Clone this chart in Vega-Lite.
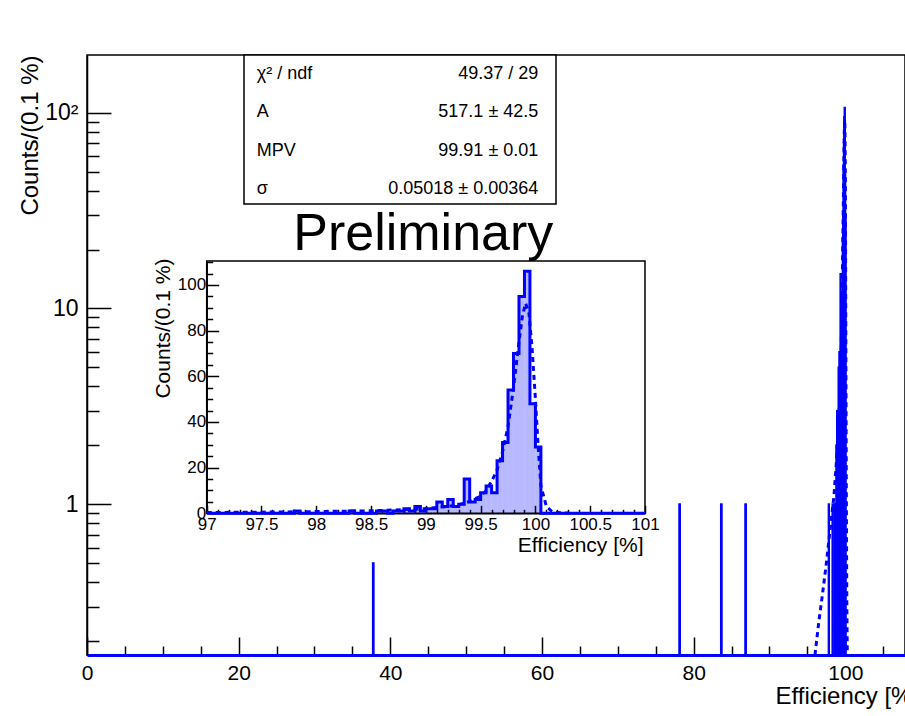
{
  "$schema": "https://vega.github.io/schema/vega-lite/v6.json",
  "width": 818,
  "height": 600,
  "autosize": {"type": "none"},
  "padding": {"left": 87, "top": 55, "right": 0, "bottom": 61},
  "background": "white",
  "config": {
    "font": "Liberation Sans",
    "view": {"stroke": "black", "strokeWidth": 1.5},
    "axis": {
      "grid": false,
      "labelFont": "Liberation Sans",
      "titleFont": "Liberation Sans",
      "titleFontWeight": "normal",
      "labelColor": "black",
      "titleColor": "black",
      "domainColor": "black",
      "tickColor": "black",
      "domainWidth": 1.5,
      "tickWidth": 1.5,
      "labelOverlap": false,
      "labelFlush": false,
      "labelBound": false
    }
  },
  "datasets": {
    "hist": [
      {"lo": 37.7, "hi": 37.8, "count": 0.5},
      {"lo": 78.1, "hi": 78.2, "count": 1},
      {"lo": 83.6, "hi": 83.7, "count": 1},
      {"lo": 86.8, "hi": 86.9, "count": 1},
      {"lo": 97.00, "hi": 97.05, "count": 0},
      {"lo": 97.05, "hi": 97.10, "count": 0},
      {"lo": 97.10, "hi": 97.15, "count": 0},
      {"lo": 97.15, "hi": 97.20, "count": 0},
      {"lo": 97.20, "hi": 97.25, "count": 0},
      {"lo": 97.25, "hi": 97.30, "count": 0},
      {"lo": 97.30, "hi": 97.35, "count": 0},
      {"lo": 97.35, "hi": 97.40, "count": 0},
      {"lo": 97.40, "hi": 97.45, "count": 0},
      {"lo": 97.45, "hi": 97.50, "count": 0},
      {"lo": 97.50, "hi": 97.55, "count": 0},
      {"lo": 97.55, "hi": 97.60, "count": 0},
      {"lo": 97.60, "hi": 97.65, "count": 0},
      {"lo": 97.65, "hi": 97.70, "count": 0},
      {"lo": 97.70, "hi": 97.75, "count": 0},
      {"lo": 97.75, "hi": 97.80, "count": 0},
      {"lo": 97.80, "hi": 97.85, "count": 1},
      {"lo": 97.85, "hi": 97.90, "count": 0},
      {"lo": 97.90, "hi": 97.95, "count": 0},
      {"lo": 97.95, "hi": 98.00, "count": 0},
      {"lo": 98.00, "hi": 98.05, "count": 0},
      {"lo": 98.05, "hi": 98.10, "count": 0},
      {"lo": 98.10, "hi": 98.15, "count": 0},
      {"lo": 98.15, "hi": 98.20, "count": 0},
      {"lo": 98.20, "hi": 98.25, "count": 0},
      {"lo": 98.25, "hi": 98.30, "count": 0},
      {"lo": 98.30, "hi": 98.35, "count": 1},
      {"lo": 98.35, "hi": 98.40, "count": 0},
      {"lo": 98.40, "hi": 98.45, "count": 0},
      {"lo": 98.45, "hi": 98.50, "count": 0},
      {"lo": 98.50, "hi": 98.55, "count": 0},
      {"lo": 98.55, "hi": 98.60, "count": 1},
      {"lo": 98.60, "hi": 98.65, "count": 1},
      {"lo": 98.65, "hi": 98.70, "count": 0},
      {"lo": 98.70, "hi": 98.75, "count": 1},
      {"lo": 98.75, "hi": 98.80, "count": 1},
      {"lo": 98.80, "hi": 98.85, "count": 2},
      {"lo": 98.85, "hi": 98.90, "count": 1},
      {"lo": 98.90, "hi": 98.95, "count": 3},
      {"lo": 98.95, "hi": 99.00, "count": 1},
      {"lo": 99.00, "hi": 99.05, "count": 2},
      {"lo": 99.05, "hi": 99.10, "count": 2},
      {"lo": 99.10, "hi": 99.15, "count": 5},
      {"lo": 99.15, "hi": 99.20, "count": 3},
      {"lo": 99.20, "hi": 99.25, "count": 6},
      {"lo": 99.25, "hi": 99.30, "count": 3},
      {"lo": 99.30, "hi": 99.35, "count": 4},
      {"lo": 99.35, "hi": 99.40, "count": 15},
      {"lo": 99.40, "hi": 99.45, "count": 5},
      {"lo": 99.45, "hi": 99.50, "count": 6},
      {"lo": 99.50, "hi": 99.55, "count": 9},
      {"lo": 99.55, "hi": 99.60, "count": 12},
      {"lo": 99.60, "hi": 99.65, "count": 9},
      {"lo": 99.65, "hi": 99.70, "count": 23},
      {"lo": 99.70, "hi": 99.75, "count": 31},
      {"lo": 99.75, "hi": 99.80, "count": 54},
      {"lo": 99.80, "hi": 99.85, "count": 70},
      {"lo": 99.85, "hi": 99.90, "count": 95},
      {"lo": 99.90, "hi": 99.95, "count": 106},
      {"lo": 99.95, "hi": 100.00, "count": 48},
      {"lo": 100.00, "hi": 100.05, "count": 29},
      {"lo": 100.05, "hi": 100.10, "count": 0},
      {"lo": 100.10, "hi": 100.15, "count": 0},
      {"lo": 100.15, "hi": 100.20, "count": 0},
      {"lo": 100.20, "hi": 100.25, "count": 0},
      {"lo": 100.25, "hi": 100.30, "count": 0},
      {"lo": 100.30, "hi": 100.35, "count": 0},
      {"lo": 100.35, "hi": 100.40, "count": 0},
      {"lo": 100.40, "hi": 100.45, "count": 0},
      {"lo": 100.45, "hi": 100.50, "count": 0},
      {"lo": 100.50, "hi": 100.55, "count": 0},
      {"lo": 100.55, "hi": 100.60, "count": 0},
      {"lo": 100.60, "hi": 100.65, "count": 0},
      {"lo": 100.65, "hi": 100.70, "count": 0},
      {"lo": 100.70, "hi": 100.75, "count": 0},
      {"lo": 100.75, "hi": 100.80, "count": 0},
      {"lo": 100.80, "hi": 100.85, "count": 0},
      {"lo": 100.85, "hi": 100.90, "count": 0},
      {"lo": 100.90, "hi": 100.95, "count": 0},
      {"lo": 100.95, "hi": 101.00, "count": 0}
    ],
    "fit": [
      {"x": 96.0, "y": 0.17},
      {"x": 96.5, "y": 0.25},
      {"x": 97.0, "y": 0.35},
      {"x": 97.5, "y": 0.5},
      {"x": 98.0, "y": 0.75},
      {"x": 98.5, "y": 1.1},
      {"x": 98.8, "y": 1.6},
      {"x": 99.0, "y": 2.1},
      {"x": 99.2, "y": 3.0},
      {"x": 99.3, "y": 3.8},
      {"x": 99.4, "y": 5.2},
      {"x": 99.5, "y": 7.5},
      {"x": 99.55, "y": 10},
      {"x": 99.6, "y": 14},
      {"x": 99.65, "y": 19},
      {"x": 99.7, "y": 27},
      {"x": 99.75, "y": 38},
      {"x": 99.8, "y": 55},
      {"x": 99.85, "y": 75},
      {"x": 99.88, "y": 86},
      {"x": 99.91, "y": 92},
      {"x": 99.94, "y": 88},
      {"x": 99.97, "y": 72},
      {"x": 100.0, "y": 50},
      {"x": 100.02, "y": 33},
      {"x": 100.05, "y": 12},
      {"x": 100.1, "y": 3},
      {"x": 100.15, "y": 0.8},
      {"x": 100.2, "y": 0.3},
      {"x": 100.3, "y": 0.12}
    ],
    "stats": [
      {"row": 1, "param": "χ² / ndf", "val": "49.37 / 29"},
      {"row": 2, "param": "A", "val": "517.1 ± 42.5"},
      {"row": 3, "param": "MPV", "val": "99.91 ± 0.01"},
      {"row": 4, "param": "σ", "val": "0.05018 ± 0.00364"}
    ]
  },
  "layer": [
    {
      "layer": [
        {
          "data": {"name": "hist"},
          "transform": [{"filter": "datum.count > 0"}],
          "mark": {"type": "bar", "color": "#0000ff", "stroke": "#0000ff", "strokeWidth": 2},
          "encoding": {
            "x": {
              "field": "lo", "type": "quantitative",
              "scale": {"domain": [0, 107.87], "nice": false, "zero": false},
              "axis": {
                "title": "Efficiency [%]",
                "values": [0, 5, 10, 15, 20, 25, 30, 35, 40, 45, 50, 55, 60, 65, 70, 75, 80, 85, 90, 95, 100, 105],
                "tickCount": 1000,
                "labelExpr": "datum.value % 20 == 0 ? toString(datum.value) : ''",
                "tickSize": {"condition": {"test": "datum.value % 20 == 0", "value": -18}, "value": -9},
                "labelPadding": 25,
                "labelFontSize": 21,
                "labelOverlap": false,
                "domainColor": "#0000ff",
                "domainWidth": 3,
                "titleFontSize": 24,
                "titleX": 688,
                "titleY": 48,
                "titleAlign": "left",
                "titleBaseline": "alphabetic"
              }
            },
            "x2": {"field": "hi"},
            "y": {
              "field": "count", "type": "quantitative", "stack": false,
              "scale": {"type": "log", "domain": [0.1699, 197.1], "nice": false},
              "axis": {
                "title": "Counts/(0.1 %)",
                "values": [0.2, 0.3, 0.4, 0.5, 0.6, 0.7, 0.8, 0.9, 1, 2, 3, 4, 5, 6, 7, 8, 9, 10, 20, 30, 40, 50, 60, 70, 80, 90, 100],
                "tickCount": 1000,
                "labelExpr": "datum.value == 100 ? '10²' : datum.value == 10 ? '10' : datum.value == 1 ? '1' : ''",
                "tickSize": {"condition": {"test": "datum.value == 1 || datum.value == 10 || datum.value == 100", "value": -24}, "value": -12},
                "labelPadding": 33,
                "labelFontSize": 23,
                "labelOverlap": false,
                "titleFontSize": 24,
                "titleAngle": -90,
                "titleX": -50,
                "titleY": 0,
                "titleAlign": "right",
                "titleBaseline": "alphabetic"
              }
            },
            "y2": {"datum": 0.1699}
          }
        },
        {
          "data": {"name": "fit"},
          "mark": {"type": "line", "color": "#0000ff", "strokeWidth": 3, "strokeDash": [5, 4], "clip": true},
          "encoding": {
            "x": {"field": "x", "type": "quantitative"},
            "y": {"field": "y", "type": "quantitative"}
          }
        },
        {
          "data": {"values": [{"t": "Preliminary"}]},
          "mark": {"type": "text", "fontSize": 52, "align": "left", "baseline": "alphabetic", "color": "black"},
          "encoding": {
            "x": {"datum": 27.2},
            "y": {"datum": 19.9},
            "text": {"field": "t"}
          }
        }
      ]
    },
    {
      "data": {"name": "stats"},
      "layer": [
        {
          "data": {"values": [{}]},
          "mark": {"type": "rect", "fill": "white", "stroke": "black", "strokeWidth": 1.5},
          "encoding": {
            "x": {"datum": 0, "type": "quantitative", "scale": {"domain": [0, 1], "range": [157, 469], "nice": false, "zero": false}, "axis": null},
            "x2": {"datum": 1},
            "y": {"datum": 0.5, "type": "quantitative", "scale": {"domain": [0.5, 4.4], "range": [0, 149], "nice": false, "zero": false}, "axis": null},
            "y2": {"datum": 4.4}
          }
        },
        {
          "mark": {"type": "text", "align": "left", "baseline": "middle", "fontSize": 18, "color": "black"},
          "encoding": {
            "x": {"datum": 0.0407},
            "y": {"field": "row", "type": "quantitative"},
            "text": {"field": "param"}
          }
        },
        {
          "mark": {"type": "text", "align": "right", "baseline": "middle", "fontSize": 18, "color": "black"},
          "encoding": {
            "x": {"datum": 0.9433},
            "y": {"field": "row", "type": "quantitative"},
            "text": {"field": "val"}
          }
        }
      ]
    },
    {
      "layer": [
        {
          "data": {"name": "hist"},
          "transform": [{"filter": "datum.lo >= 96.99"}],
          "mark": {"type": "bar", "color": "#0000ff", "fillOpacity": 0.28, "strokeWidth": 0},
          "encoding": {
            "x": {
              "field": "lo", "type": "quantitative",
              "scale": {"domain": [97, 101], "range": [119.7, 558], "nice": false, "zero": false},
              "axis": {
                "orient": "bottom",
                "offset": -141.7,
                "title": "Efficiency [%]",
                "values": [97.0, 97.1, 97.2, 97.3, 97.4, 97.5, 97.6, 97.7, 97.8, 97.9, 98.0, 98.1, 98.2, 98.3, 98.4, 98.5, 98.6, 98.7, 98.8, 98.9, 99.0, 99.1, 99.2, 99.3, 99.4, 99.5, 99.6, 99.7, 99.8, 99.9, 100.0, 100.1, 100.2, 100.3, 100.4, 100.5, 100.6, 100.7, 100.8, 100.9, 101.0],
                "tickCount": 1000,
                "labelExpr": "abs(datum.value * 2 - round(datum.value * 2)) < 0.001 ? toString(round(datum.value * 10) / 10) : ''",
                "tickSize": {"condition": {"test": "abs(datum.value * 2 - round(datum.value * 2)) < 0.001", "value": -8}, "value": -4},
                "labelPadding": 11,
                "labelFontSize": 17,
                "labelOverlap": false,
                "titleFontSize": 21,
                "titleX": 556,
                "titleY": 38.4,
                "titleAlign": "right",
                "titleBaseline": "alphabetic"
              }
            },
            "x2": {"field": "hi"},
            "y": {
              "field": "count", "type": "quantitative", "stack": false,
              "scale": {"domain": [0, 110.5], "range": [458.3, 206], "nice": false, "zero": false},
              "axis": {
                "orient": "left",
                "offset": -119.7,
                "title": "Counts/(0.1 %)",
                "values": [0, 5, 10, 15, 20, 25, 30, 35, 40, 45, 50, 55, 60, 65, 70, 75, 80, 85, 90, 95, 100, 105, 110],
                "tickCount": 1000,
                "labelExpr": "datum.value % 20 == 0 ? toString(datum.value) : ''",
                "tickSize": {"condition": {"test": "datum.value % 20 == 0", "value": -12}, "value": -6},
                "labelPadding": 13,
                "labelFontSize": 17,
                "labelOverlap": false,
                "titleFontSize": 21,
                "titleAngle": -90,
                "titleX": -37,
                "titleY": 203,
                "titleAlign": "right",
                "titleBaseline": "alphabetic"
              }
            },
            "y2": {"datum": 0}
          }
        },
        {
          "data": {"values": [{}]},
          "mark": {"type": "rect", "filled": false, "stroke": "black", "strokeWidth": 1.5},
          "encoding": {
            "x": {"datum": 97},
            "x2": {"datum": 101},
            "y": {"datum": 0},
            "y2": {"datum": 110.5}
          }
        },
        {
          "data": {"name": "hist"},
          "transform": [
            {"filter": "datum.lo >= 96.99"},
            {"fold": ["lo", "hi"], "as": ["side", "edge"]}
          ],
          "mark": {"type": "line", "color": "#0000ff", "strokeWidth": 3},
          "encoding": {
            "x": {"field": "edge", "type": "quantitative"},
            "y": {"field": "count", "type": "quantitative"},
            "order": [{"field": "lo", "type": "quantitative"}, {"field": "edge", "type": "quantitative"}]
          }
        },
        {
          "data": {"name": "fit"},
          "transform": [{"filter": "datum.x >= 97 && datum.x <= 101"}],
          "mark": {"type": "line", "color": "#0000ff", "strokeWidth": 3, "strokeDash": [5, 4]},
          "encoding": {
            "x": {"field": "x", "type": "quantitative"},
            "y": {"field": "y", "type": "quantitative"}
          }
        }
      ]
    }
  ],
  "resolve": {"scale": {"x": "independent", "y": "independent"}}
}
